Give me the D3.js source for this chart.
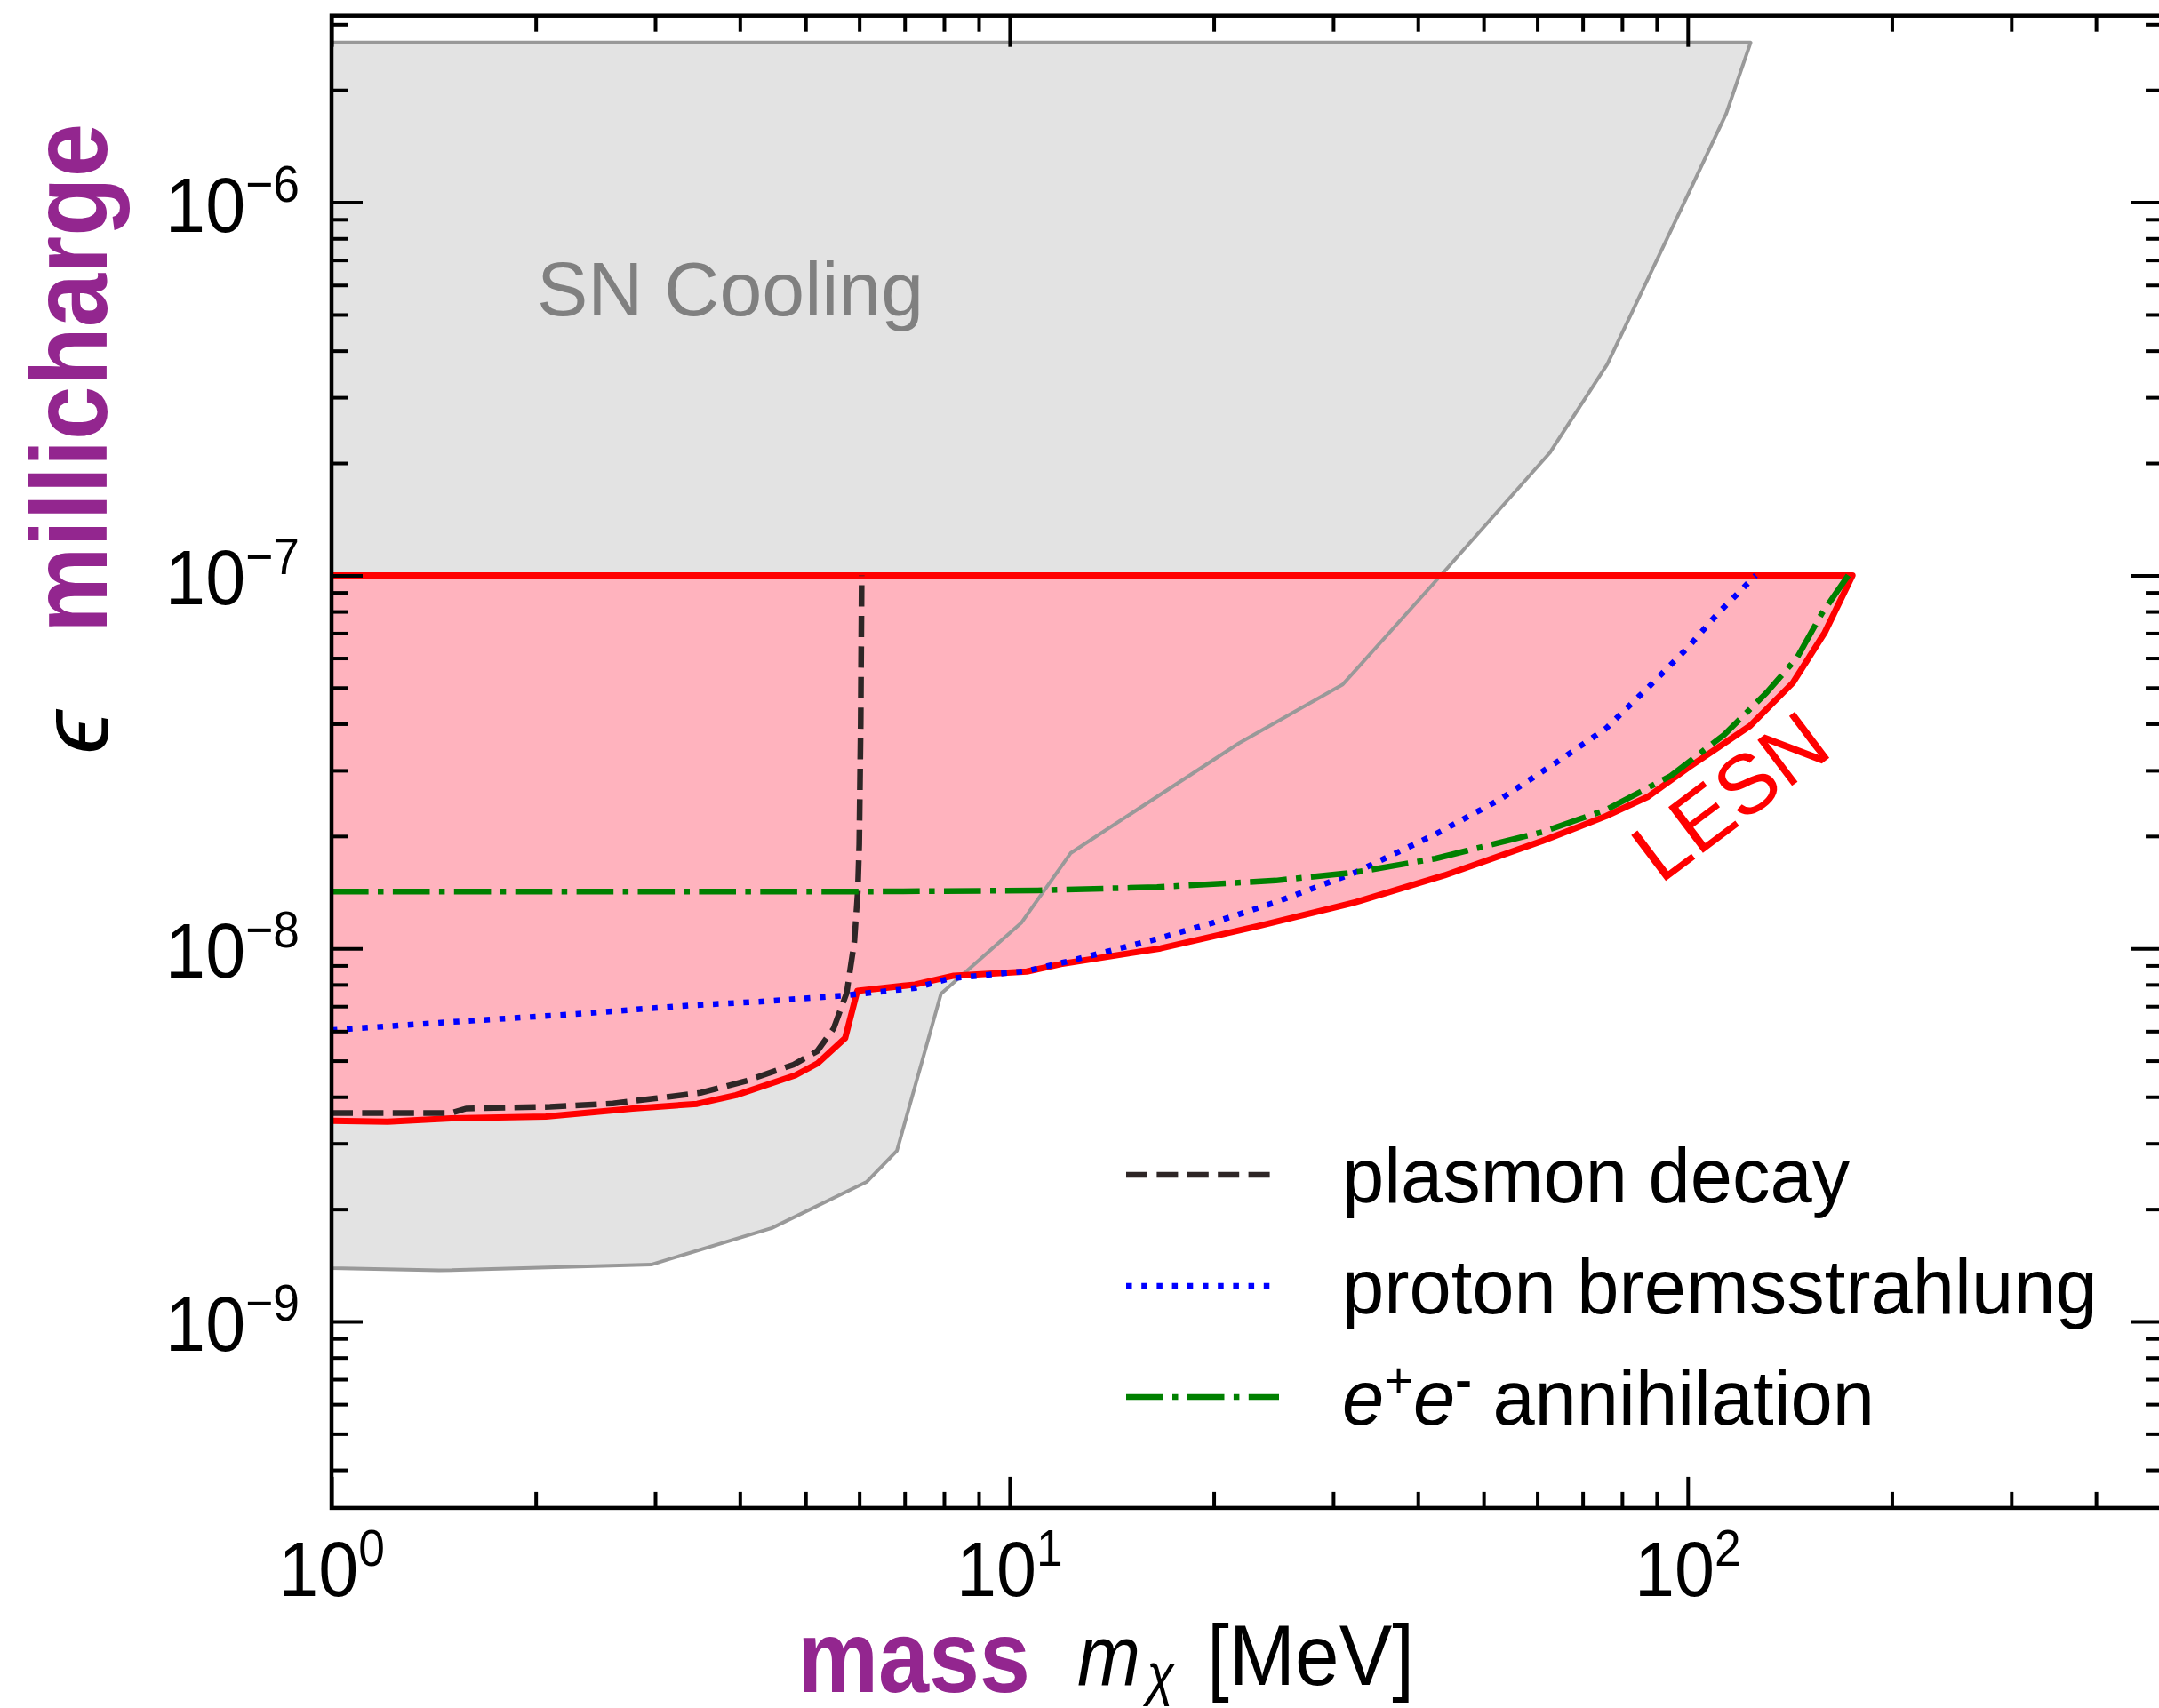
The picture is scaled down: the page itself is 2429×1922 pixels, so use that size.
<!DOCTYPE html>
<html>
<head>
<meta charset="utf-8">
<script src="https://cdn.jsdelivr.net/npm/d3@7"></script>
<style>
  body { margin: 0; background: #fff; }
  svg { display: block; }
  text { font-family: "Liberation Sans", Arial, sans-serif; }
</style>
</head>
<body>
<div id="chart"></div>
<script>
// --- data (mass in MeV, epsilon) ---
const massSN = [1, 1.44, 2.96, 4.46, 6.16, 6.82, 7.92, 10.4, 12.3, 21.8, 31.0, 44.3, 62.6, 76.1, 98.6, 114, 123.8, 1];
const epsSN  = [1.39e-9, 1.37e-9, 1.42e-9, 1.78e-9, 2.37e-9, 2.87e-9, 7.56e-9, 1.17e-8, 1.8e-8, 3.55e-8, 5.1e-8, 1.05e-7, 2.13e-7, 3.68e-7, 9.9e-7, 1.73e-6, 2.68e-6, 2.68e-6];

const lesnTop = 1e-7;
const massLESN = [1, 1.21, 1.5, 2.07, 2.78, 3.46, 3.95, 4.83, 5.21, 5.72, 5.96, 7.25, 8.27, 10.6, 11.9, 16.7, 23.4, 32.4, 43.8, 61.0, 75.7, 87.4, 100.4, 123.6, 142.9, 159.3, 175];
const epsLESN  = [3.45e-9, 3.43e-9, 3.5e-9, 3.54e-9, 3.72e-9, 3.83e-9, 4.04e-9, 4.57e-9, 4.92e-9, 5.75e-9, 7.69e-9, 8.0e-9, 8.45e-9, 8.67e-9, 9.08e-9, 1.0e-8, 1.15e-8, 1.33e-8, 1.57e-8, 1.94e-8, 2.26e-8, 2.55e-8, 3.06e-8, 3.95e-8, 5.15e-8, 7.03e-8, 1e-7];

const massPlasmon = [1, 1.5, 1.58, 2.1, 2.6, 3.0, 3.5, 4.1, 4.8, 5.2, 5.5, 5.75, 5.9, 5.97, 6.0, 6.03, 6.05];
const epsPlasmon  = [3.62e-9, 3.62e-9, 3.72e-9, 3.76e-9, 3.84e-9, 3.96e-9, 4.1e-9, 4.42e-9, 4.88e-9, 5.3e-9, 6.1e-9, 7.6e-9, 1.04e-8, 1.42e-8, 1.9e-8, 4e-8, 1e-7];

const massProton = [1, 1.5, 2.24, 3.36, 4.4, 5.76, 7.25, 8.15, 10.6, 12.4, 16.5, 19.9, 24.7, 32.4, 42.4, 52.7, 65.5, 75.7, 87.4, 99.6, 110.9, 126];
const epsProton  = [6.04e-9, 6.35e-9, 6.65e-9, 7.03e-9, 7.22e-9, 7.49e-9, 7.83e-9, 8.3e-9, 8.7e-9, 9.3e-9, 1.06e-8, 1.17e-8, 1.33e-8, 1.6e-8, 2.02e-8, 2.5e-8, 3.24e-8, 3.88e-8, 5.0e-8, 6.35e-8, 7.92e-8, 1e-7];

const massAnnih = [1, 6, 11, 16.5, 24.7, 32.4, 42.4, 61, 75.7, 94.4, 113.2, 130.5, 145, 157.8, 172.5];
const epsAnnih  = [1.42e-8, 1.42e-8, 1.43e-8, 1.46e-8, 1.52e-8, 1.6e-8, 1.74e-8, 2.05e-8, 2.35e-8, 2.9e-8, 3.74e-8, 4.83e-8, 6.02e-8, 7.92e-8, 1e-7];

const xMajor = [1, 10, 100];
const xMinor = [2, 3, 4, 5, 6, 7, 8, 9, 20, 30, 40, 50, 60, 70, 80, 90, 200, 300, 400];
const yMajor = [-9, -8, -7, -6];
const xTickLabels = ['0', '1', '2'];

const legendNames = ['plasmon decay', 'proton bremsstrahlung', 'annihilation'];

// --- layout ---
const W = 2429, H = 1922;
const plotLeft = 373, plotTop = 17.7, decX = 762.9, decY = 419.8;
const plotBottom = plotTop + 4 * decY;
const purple = '#93268f';

const x = d3.scaleLog().domain([1, 500]).range([plotLeft, plotLeft + decX * Math.log10(500)]);
const y = d3.scaleLog().domain([Math.pow(10, -9.5), Math.pow(10, -5.5)]).range([plotBottom, plotTop]);
const plotRight = x(500);

const zip = (a, b) => a.map((v, i) => [v, b[i]]);
const line = d3.line().x(d => x(d[0])).y(d => y(d[1]));

const svg = d3.select('#chart').append('svg')
    .attr('width', W)
    .attr('height', H)
    .style('background', '#fff');

svg.append('clipPath').attr('id', 'plot')
    .append('rect')
    .attr('x', plotLeft).attr('y', plotTop)
    .attr('width', plotRight - plotLeft).attr('height', plotBottom - plotTop);

const plot = svg.append('g').attr('clip-path', 'url(#plot)');

// SN cooling region
const snPts = zip(massSN, epsSN);
plot.append('path')
    .attr('d', line(snPts) + 'Z')
    .attr('fill', '#e3e3e3')
    .attr('stroke', 'none');

// LESN region
const lesnLower = zip(massLESN, epsLESN);
const lesnOutline = [[1, lesnTop], [massLESN[massLESN.length - 1], lesnTop]].concat(lesnLower.slice().reverse());
plot.append('path')
    .attr('d', line(lesnOutline) + 'Z')
    .attr('fill', '#ffb3be')
    .attr('stroke', 'none');

plot.append('path')
    .attr('d', line(snPts) + 'Z')
    .attr('fill', 'none')
    .attr('stroke', '#999')
    .attr('stroke-width', 4)
    .attr('stroke-linejoin', 'round');

plot.append('path')
    .attr('d', line(lesnOutline))
    .attr('fill', 'none')
    .attr('stroke', '#ff0000')
    .attr('stroke-width', 7)
    .attr('stroke-linejoin', 'round');

// channel curves
const styles = [
    { pts: zip(massPlasmon, epsPlasmon), color: '#2e2626', dash: '24,10.4' },
    { pts: zip(massProton, epsProton), color: '#0000ff', dash: '6.5,10.7' },
    { pts: zip(massAnnih, epsAnnih), color: '#008000', dash: '41.6,10.4,6.5,10.4' }
];
styles.forEach(s => {
    plot.append('path')
        .attr('d', line(s.pts))
        .attr('fill', 'none')
        .attr('stroke', s.color)
        .attr('stroke-width', 6.5)
        .attr('stroke-dasharray', s.dash);
});

// --- axes (inward ticks on all four sides) ---
const yMinor = [];
for (let d = -10; d <= -6; d++) {
    for (let k = 2; k <= 9; k++) {
        const v = k * Math.pow(10, d);
        if (v > Math.pow(10, -9.5) && v < Math.pow(10, -5.5)) yMinor.push(v);
    }
}
const yMajorVals = yMajor.map(e => Math.pow(10, e));

function ticks(gen, transform, values, size) {
    svg.append('g')
        .attr('transform', transform)
        .call(gen.tickValues(values).tickSize(size).tickFormat(''))
        .call(g => g.select('.domain').remove())
        .selectAll('line')
        .attr('stroke', '#000')
        .attr('stroke-width', 4);
}
ticks(d3.axisBottom(x), `translate(0,${plotBottom})`, xMinor, -18);
ticks(d3.axisBottom(x), `translate(0,${plotBottom})`, xMajor, -35);
ticks(d3.axisTop(x), `translate(0,${plotTop})`, xMinor, -18);
ticks(d3.axisTop(x), `translate(0,${plotTop})`, xMajor, -35);
ticks(d3.axisLeft(y), `translate(${plotLeft},0)`, yMinor, -18);
ticks(d3.axisLeft(y), `translate(${plotLeft},0)`, yMajorVals, -35);
ticks(d3.axisRight(y), `translate(${plotRight},0)`, yMinor, -18);
ticks(d3.axisRight(y), `translate(${plotRight},0)`, yMajorVals, -35);

svg.append('rect')
    .attr('x', plotLeft).attr('y', plotTop)
    .attr('width', plotRight - plotLeft).attr('height', plotBottom - plotTop)
    .attr('fill', 'none')
    .attr('stroke', '#000')
    .attr('stroke-width', 4.5);

// tick labels
yMajor.forEach(e => {
    const t = svg.append('text')
        .attr('transform', `translate(337,${y(Math.pow(10, e)) + 33}) scale(0.92,1)`)
        .attr('text-anchor', 'end')
        .attr('font-size', 88);
    t.append('tspan').text('10');
    t.append('tspan').attr('font-size', 58).attr('dy', -34).text('\u2212' + Math.abs(e));
});
xMajor.forEach((v, i) => {
    const t = svg.append('text')
        .attr('transform', `translate(${x(v)},1796) scale(0.92,1)`)
        .attr('text-anchor', 'middle')
        .attr('font-size', 88);
    t.append('tspan').text('10');
    t.append('tspan').attr('font-size', 58).attr('dy', -34).text(xTickLabels[i]);
});

// axis labels
svg.append('text')
    .attr('transform', 'translate(120,712) rotate(-90)')
    .attr('font-size', 122)
    .attr('font-weight', 'bold')
    .attr('fill', purple)
    .attr('textLength', 573)
    .attr('lengthAdjust', 'spacingAndGlyphs')
    .text('millicharge');
svg.append('text')
    .attr('transform', 'translate(122,824) rotate(-90)')
    .attr('font-size', 112)
    .attr('font-family', '"DejaVu Sans", sans-serif')
    .attr('font-style', 'italic')
    .attr('text-anchor', 'middle')
    .text('\u03f5');

svg.append('text')
    .attr('x', 897).attr('y', 1904)
    .attr('font-size', 115)
    .attr('font-weight', 'bold')
    .attr('fill', purple)
    .attr('textLength', 262)
    .attr('lengthAdjust', 'spacingAndGlyphs')
    .text('mass');
svg.append('text')
    .attr('transform', 'translate(1212,1896) scale(0.88,1)')
    .attr('font-size', 97)
    .attr('font-style', 'italic')
    .text('m');
svg.append('text')
    .attr('transform', 'translate(1290,1906) scale(0.9,1)')
    .attr('font-size', 64)
    .attr('font-family', '"DejaVu Serif", serif')
    .attr('font-style', 'italic')
    .text('\u03c7');
svg.append('text')
    .attr('transform', 'translate(1358,1896) scale(0.92,1)')
    .attr('font-size', 97)
    .text('[MeV]');

// annotations
svg.append('text')
    .attr('x', 604).attr('y', 355)
    .attr('font-size', 86)
    .attr('fill', '#808080')
    .text('SN Cooling');
svg.append('text')
    .attr('transform', 'translate(1868,996) rotate(-37)')
    .attr('font-size', 94)
    .attr('fill', '#ff0000')
    .text('LESN');

// legend
const legendY = [1322, 1447, 1572];
styles.forEach((s, i) => {
    svg.append('line')
        .attr('x1', 1267).attr('x2', 1439)
        .attr('y1', legendY[i]).attr('y2', legendY[i])
        .attr('stroke', s.color)
        .attr('stroke-width', 6.5)
        .attr('stroke-dasharray', s.dash);
    const t = svg.append('text')
        .attr('transform', `translate(1510,${legendY[i] + 31}) scale(0.965,1)`)
        .attr('font-size', 88);
    if (i === 2) {
        t.append('tspan').attr('font-style', 'italic').text('e');
        t.append('tspan').attr('font-size', 58).attr('dy', -30).text('+');
        t.append('tspan').attr('font-style', 'italic').attr('dy', 30).text('e');
        t.append('tspan').attr('font-size', 58).attr('font-weight', 'bold').attr('dy', -30).text('-');
        t.append('tspan').attr('dy', 30).text(' ' + legendNames[i]);
    } else {
        t.text(legendNames[i]);
    }
});
</script>
</body>
</html>
